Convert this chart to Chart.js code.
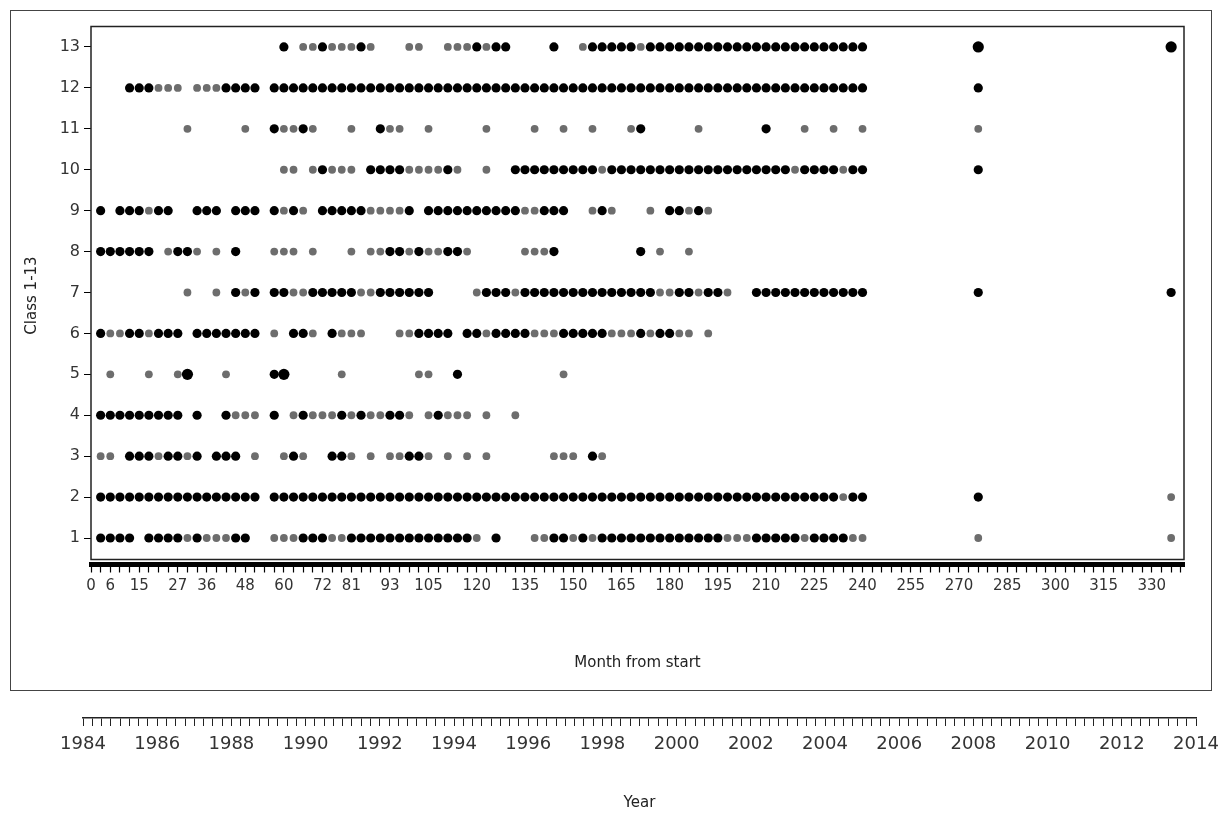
<!DOCTYPE html>
<html>
<head>
<meta charset="utf-8">
<script src="https://cdn.jsdelivr.net/npm/chart.js@4"></script>
<style>
body{margin:0;background:#fff;}
#frame{position:absolute;left:10px;top:10px;width:1200px;height:679px;border:1px solid #444;}
#c1{position:absolute;left:0;top:0;}
#c2{position:absolute;left:0;top:700px;}
</style>
</head>
<body>
<div id="frame"></div>
<canvas id="c1" width="1221" height="700"></canvas>
<canvas id="c2" width="1221" height="117"></canvas>
<script>
// months (from start) where each class has a point, black = dark dot, gray = light dot
const black1 = [3,6,9,12,18,21,24,27,33,45,48,66,69,72,81,84,87,90,93,96,99,102,105,108,111,114,117,126,144,147,153,159,162,165,168,171,174,177,180,183,186,189,192,195,207,210,213,216,219,225,228,231,234];
const gray1 = [30,36,39,42,57,60,63,75,78,120,138,141,150,156,198,201,204,222,237,240,276,336];
const black2 = [3,6,9,12,15,18,21,24,27,30,33,36,39,42,45,48,51,57,60,63,66,69,72,75,78,81,84,87,90,93,96,99,102,105,108,111,114,117,120,123,126,129,132,135,138,141,144,147,150,153,156,159,162,165,168,171,174,177,180,183,186,189,192,195,198,201,204,207,210,213,216,219,222,225,228,231,237,240,276];
const gray2 = [234,336];
const black3 = [12,15,18,24,27,33,39,42,45,63,75,78,99,102,156];
const gray3 = [3,6,21,30,51,60,66,81,87,93,96,105,111,117,123,144,147,150,159];
const black4 = [3,6,9,12,15,18,21,24,27,33,42,57,66,78,84,93,96,108];
const gray4 = [45,48,51,63,69,72,75,81,87,90,99,105,111,114,117,123,132];
const black5 = [57,114];
const gray5 = [6,18,27,42,78,102,105,147];
const black6 = [3,12,15,21,24,27,33,36,39,42,45,48,51,63,66,75,102,105,108,111,117,120,126,129,132,135,147,150,153,156,159,171,177,180];
const gray6 = [6,9,18,57,69,78,81,84,96,99,123,138,141,144,162,165,168,174,183,186,192];
const black7 = [45,51,57,60,69,72,75,78,81,90,93,96,99,102,105,123,126,129,135,138,141,144,147,150,153,156,159,162,165,168,171,174,183,186,192,195,207,210,213,216,219,222,225,228,231,234,237,240,276,336];
const gray7 = [30,39,48,63,66,84,87,120,132,177,180,189,198];
const black8 = [3,6,9,12,15,18,27,30,45,93,96,102,111,114,144,171];
const gray8 = [24,33,39,57,60,63,69,81,87,90,99,105,108,117,135,138,141,177,186];
const black9 = [3,9,12,15,21,24,33,36,39,45,48,51,57,63,72,75,78,81,84,99,105,108,111,114,117,120,123,126,129,132,141,144,147,159,180,183,189];
const gray9 = [18,60,66,87,90,93,96,135,138,156,162,174,186,192];
const black10 = [72,87,90,93,96,111,132,135,138,141,144,147,150,153,156,162,165,168,171,174,177,180,183,186,189,192,195,198,201,204,207,210,213,216,222,225,228,231,237,240,276];
const gray10 = [60,63,69,75,78,81,99,102,105,108,114,123,159,219,234];
const black11 = [57,66,90,171,210];
const gray11 = [30,48,60,63,69,81,93,96,105,123,138,147,156,168,189,222,231,240,276];
const black12 = [12,15,18,42,45,48,51,57,60,63,66,69,72,75,78,81,84,87,90,93,96,99,102,105,108,111,114,117,120,123,126,129,132,135,138,141,144,147,150,153,156,159,162,165,168,171,174,177,180,183,186,189,192,195,198,201,204,207,210,213,216,219,222,225,228,231,234,237,240,276];
const gray12 = [21,24,27,33,36,39];
const black13 = [60,72,84,120,126,129,144,156,159,162,165,168,174,177,180,183,186,189,192,195,198,201,204,207,210,213,216,219,222,225,228,231,234,237,240];
const gray13 = [66,69,75,78,81,87,99,102,111,114,117,123,153,171];
// larger dark dots
const bigMonths = [30,60,276,336];
const bigClasses = [5,5,13,13];

const classTicks = [1,2,3,4,5,6,7,8,9,10,11,12,13];
const monthLabels = [0,6,15,27,36,48,60,72,81,93,105,120,135,150,165,180,195,210,225,240,255,270,285,300,315,330];
const yearLabels = [1984,1986,1988,1990,1992,1994,1996,1998,2000,2002,2004,2006,2008,2010,2012,2014];

const blackRows = [black1,black2,black3,black4,black5,black6,black7,black8,black9,black10,black11,black12,black13];
const grayRows = [gray1,gray2,gray3,gray4,gray5,gray6,gray7,gray8,gray9,gray10,gray11,gray12,gray13];

function toPoints(rows) {
  const pts = [];
  rows.forEach((row, i) => {
    row.forEach(m => pts.push({x: m, y: classTicks[i]}));
  });
  return pts;
}
const bigPoints = bigMonths.map((m, i) => ({x: m, y: bigClasses[i]}));

// tick marks every 3 months / every quarter year
const monthTicks = [];
for (let m = 0; m <= 339; m += 3) monthTicks.push(m);
const quarterTicks = [];
for (let q = 0; q <= 120; q++) quarterTicks.push(1984 + q * 0.25);

const fam = '"DejaVu Sans", Arial, sans-serif';

const boxPlugin = {
  id: 'box',
  beforeDatasetsDraw(chart) {
    const a = chart.chartArea;
    const ctx = chart.ctx;
    ctx.save();
    ctx.strokeStyle = '#222';
    ctx.lineWidth = 1.5;
    ctx.strokeRect(a.left, a.top, a.right - a.left, a.bottom - 5 - a.top);
    ctx.restore();
  }
};

new Chart(document.getElementById('c1'), {
  type: 'scatter',
  data: {
    datasets: [
      {data: toPoints(grayRows), backgroundColor: '#6d6d6d', pointRadius: 3.9, borderWidth: 0},
      {data: toPoints(blackRows), backgroundColor: '#000', pointRadius: 4.6, borderWidth: 0},
      {data: bigPoints, backgroundColor: '#000', pointRadius: 5.6, borderWidth: 0}
    ]
  },
  options: {
    responsive: false,
    animation: false,
    layout: {padding: {top: 26.5, right: 37, bottom: 0, left: 0}},
    plugins: {legend: {display: false}, tooltip: {enabled: false}},
    scales: {
      x: {
        type: 'linear', min: 0, max: 340,
        afterBuildTicks: s => { s.ticks = monthTicks.map(v => ({value: v})); },
        afterFit: s => { s.height = 135.5; },
        ticks: {autoSkip: false, maxRotation: 0, padding: 5, color: '#333', font: {family: fam, size: 15},
          callback: v => monthLabels.includes(v) ? String(v) : ''},
        grid: {drawOnChartArea: false, tickLength: 8, color: '#000', tickWidth: 1.2},
        border: {display: true, color: '#000', width: 5},
        title: {display: true, text: 'Month from start', color: '#222', font: {family: fam, size: 15}, padding: {top: 0, bottom: 28}}
      },
      y: {
        type: 'linear', min: 0.353, max: 13.5,
        afterBuildTicks: s => { s.ticks = classTicks.map(v => ({value: v})); },
        afterFit: s => { s.width = 91; },
        ticks: {padding: 4, color: '#333', font: {family: fam, size: 16}},
        grid: {drawOnChartArea: false, tickLength: 7, color: '#000'},
        border: {display: false},
        title: {display: true, text: 'Class 1-13', color: '#222', font: {family: fam, size: 15}, padding: {top: 23, bottom: 0}}
      }
    }
  },
  plugins: [boxPlugin]
});

new Chart(document.getElementById('c2'), {
  type: 'scatter',
  data: {datasets: [{data: []}]},
  options: {
    responsive: false,
    animation: false,
    layout: {padding: {top: 10, right: 25, bottom: 0, left: 83}},
    plugins: {legend: {display: false}, tooltip: {enabled: false}},
    scales: {
      y: {display: false},
      x: {
        type: 'linear', min: 1984, max: 2014,
        afterBuildTicks: s => { s.ticks = quarterTicks.map(v => ({value: v})); },
        afterFit: s => { s.height = 99; s.paddingLeft = 0; s.paddingRight = 0; },
        ticks: {autoSkip: false, maxRotation: 0, padding: 8, color: '#333', font: {family: fam, size: 18},
          callback: v => yearLabels.includes(v) ? String(v) : ''},
        grid: {drawOnChartArea: false, tickLength: 8, color: '#222'},
        border: {display: true, color: '#222', width: 1.5},
        title: {display: true, text: 'Year', color: '#222', font: {family: fam, size: 15}, padding: {top: 0, bottom: 5}}
      }
    }
  }
});
</script>
</body>
</html>
